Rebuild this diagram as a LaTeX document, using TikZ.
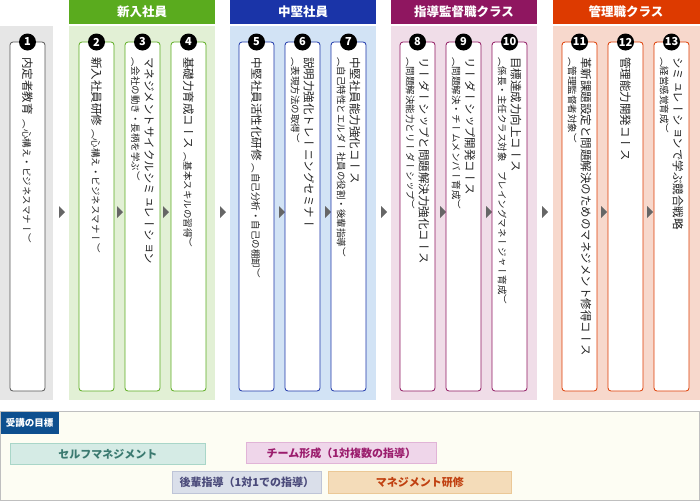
\documentclass[tikz,border=0pt]{standalone}
\usepackage{fontspec}
\setmainfont{Noto Sans CJK JP}
\newfontfamily\vfont[Vertical=RotatedGlyphs]{Noto Sans CJK JP}
\newfontfamily\hfont{Noto Sans CJK JP}
\definecolor{gyH}{HTML}{555555}\definecolor{gyP}{HTML}{E6E6E6}\definecolor{gyB}{HTML}{9A9A9A}
\definecolor{grH}{HTML}{5AAB1E}\definecolor{grP}{HTML}{E2F0D5}\definecolor{grB}{HTML}{7CC04A}
\definecolor{blH}{HTML}{1A34A8}\definecolor{blP}{HTML}{D2E3F5}\definecolor{blB}{HTML}{6B7BD0}
\definecolor{puH}{HTML}{8F1660}\definecolor{puP}{HTML}{F0DDE8}\definecolor{puB}{HTML}{C070A8}
\definecolor{orH}{HTML}{DD3A00}\definecolor{orP}{HTML}{F7D8CC}\definecolor{orB}{HTML}{E08060}
\definecolor{txt}{HTML}{222222}
\newcommand{\mycard}[6]{%
  \draw[cardbox,draw=#4] (#2,42) rectangle ++(35,349);
  \node[badge,fill=#5] (b#1) at (#2+17.5,42) {#1};
  \node[vtext] (t#1) at (#2+17.5,57) {#6};
}
\tikzset{
  header/.style={text=white,font=\hfont\bfseries\fontsize{12.5}{14}\selectfont,inner sep=0},
  cardbox/.style={fill=white,rounded corners=3pt,line width=0.8pt},
  badge/.style={circle,inner sep=0,minimum size=17pt,text=white,font=\hfont\bfseries\fontsize{11}{11}\selectfont},
  vtext/.style={rotate=-90,anchor=west,align=left,inner sep=0,text=txt,font=\vfont\fontsize{11.5}{13}\selectfont},
  arr/.style={fill=gray!80!black,draw=none},
  goal/.style={line width=0.8pt,font=\hfont\bfseries\fontsize{11}{12}\selectfont},
}
\newcommand{\mysub}[1]{{\fontsize{9.5}{11}\selectfont #1}}
\begin{document}
\begin{tikzpicture}[x=1pt,y=-1pt]
\useasboundingbox (0,0) rectangle (700,501);
\fill[gyP] (0,26) rectangle (53,400);
\fill[grP] (69,26) rectangle (215,400);
\fill[blP] (230,26) rectangle (376,400);
\fill[puP] (391,26) rectangle (537,400);
\fill[orP] (553,26) rectangle (700,400);
\fill[grH] (69,0) rectangle (215,24); \node[header] (h1) at (142,12) {新入社員};
\fill[blH] (230,0) rectangle (376,24); \node[header] (h2) at (303,12) {中堅社員};
\fill[puH] (391,0) rectangle (537,24); \node[header] (h3) at (464,12) {指導監督職クラス};
\fill[orH] (553,0) rectangle (700,24); \node[header] (h4) at (626,12) {管理職クラス};
\foreach \ax in {59,117,163,220,279,325,381,440,486,542,601,647}
  \fill[arr] (\ax,206) -- (\ax+6,212) -- (\ax,218) -- cycle;
\mycard{1}{10}{gyB}{gyH}{}{内定者教育\hspace{5pt}\mysub{（心構え・ビジネスマナー）}}
\mycard{2}{79}{grB}{grH}{}{新入社員研修\hspace{3pt}\mysub{（心構え・ビジネスマナー）}}
\mycard{3}{125}{grB}{grH}{}{マネジメントサイクルシミュレーション\\\mysub{（会社の動き・長柄を学ぶ）}}
\mycard{4}{171}{grB}{grH}{}{基礎力育成コース\hspace{3pt}\mysub{（基本スキルの習得）}}
\mycard{5}{239}{blB}{blH}{}{中堅社員活性化研修\hspace{3pt}\mysub{（自己分析・自己の棚卸）}}
\mycard{6}{285}{blB}{blH}{}{説明力強化トレーニングセミナー\\\mysub{（表現方法の取得）}}
\mycard{7}{331}{blB}{blH}{}{中堅社員能力強化コース\\\mysub{（自己特性とエルダー社員の役割・後輩指導）}}
\mycard{8}{400}{puB}{puH}{}{リーダーシップと問題解決力強化コース\\\mysub{（問題解決能力とリーダーシップ）}}
\mycard{9}{446}{puB}{puH}{}{リーダーシップ開発コース\\\mysub{（問題解決・チームメンバー育成）}}
\mycard{10}{492}{puB}{puH}{}{目標達成力向上コース\\\mysub{（係長・主任クラス対象　プレイングマネージャー育成）}}
\mycard{11}{562}{orB}{orH}{}{革新課題設定と問題解決のためのマネジメント修得コース\\\mysub{（管理監督者対象）}}
\mycard{12}{608}{orB}{orH}{}{管理能力開発コース}
\mycard{13}{654}{orB}{orH}{}{シミュレーションで学ぶ競合戦略\\\mysub{（経営感覚育成）}}
\draw[draw=gray!50,fill={rgb,255:red,253;green,253;blue,243},line width=0.8pt] (0.5,411.5) rectangle (699.5,500.5);
\node[fill={rgb,255:red,13;green,79;blue,143},text=white,font=\hfont\bfseries\fontsize{9.5}{10}\selectfont,minimum width=58pt,minimum height=22pt,inner sep=0,anchor=north west] (gl) at (0.5,411.5) {受講の目標};
\node[goal,draw={rgb,255:red,169;green,214;blue,200},fill={rgb,255:red,213;green,235;blue,229},text={rgb,255:red,59;green,122;blue,112},minimum width=195pt,minimum height=21pt,anchor=north west] (g1) at (10,443) {セルフマネジメント};
\node[goal,draw={rgb,255:red,225;green,180;blue,215},fill={rgb,255:red,239;green,214;blue,234},text={rgb,255:red,155;green,29;blue,109},minimum width=190pt,minimum height=21pt,anchor=north west] (g2) at (246,442) {チーム形成（1対複数の指導）};
\node[goal,draw={rgb,255:red,190;green,196;blue,215},fill={rgb,255:red,218;green,223;blue,234},text={rgb,255:red,74;green,74;blue,122},minimum width=149pt,minimum height=22pt,anchor=north west] (g3) at (172,471) {後輩指導（1対1での指導）};
\node[goal,draw={rgb,255:red,235;green,200;blue,150},fill={rgb,255:red,244;green,220;blue,185},text={rgb,255:red,192;green,64;blue,16},minimum width=183pt,minimum height=22pt,anchor=north west] (g4) at (328,471) {マネジメント研修};
\end{tikzpicture}
\end{document}
